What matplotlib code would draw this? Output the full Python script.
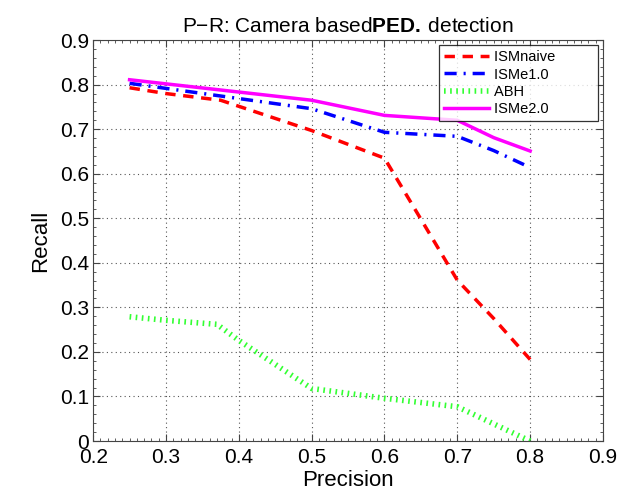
import matplotlib
matplotlib.use("Agg")
import matplotlib.pyplot as plt
from matplotlib.ticker import MultipleLocator

plt.rcParams['font.family'] = ['Liberation Sans', 'DejaVu Sans']
plt.rcParams['mathtext.fontset'] = 'custom'
plt.rcParams['mathtext.bf'] = 'Liberation Sans:bold'
plt.rcParams['mathtext.rm'] = 'Liberation Sans'

# data
naive_x = [0.25, 0.3, 0.375, 0.5, 0.6, 0.7, 0.75, 0.8]
naive_y = [0.793, 0.78, 0.765, 0.697, 0.635, 0.361, 0.275, 0.183]

e1_x = [0.25, 0.5, 0.6, 0.7, 0.75, 0.8]
e1_y = [0.803, 0.746, 0.693, 0.684, 0.652, 0.614]

abh_x = [0.25, 0.3, 0.37, 0.4, 0.5, 0.6, 0.7, 0.8]
abh_y = [0.279, 0.271, 0.262, 0.226, 0.118, 0.096, 0.077, 0.0]

e2_x = [0.25, 0.5, 0.6, 0.7, 0.75, 0.8]
e2_y = [0.811, 0.765, 0.731, 0.72, 0.681, 0.651]

xticks = [0.2, 0.3, 0.4, 0.5, 0.6, 0.7, 0.8, 0.9]
yticks = [0, 0.1, 0.2, 0.3, 0.4, 0.5, 0.6, 0.7, 0.8, 0.9]
xtick_labels = ['0.2', '0.3', '0.4', '0.5', '0.6', '0.7', '0.8', '0.9']
ytick_labels = ['0', '0.1', '0.2', '0.3', '0.4', '0.5', '0.6', '0.7', '0.8', '0.9']

fig = plt.figure(figsize=(6.21, 4.95), dpi=100)
ax = fig.add_axes([0.150, 0.109, 0.821, 0.810])

ax.plot(naive_x, naive_y, color='red', linestyle=(0, (3, 2.2)), linewidth=2.5, label='ISMnaive')
ax.plot(e1_x, e1_y, color='blue', linestyle=(0, (3.5, 2, 0.6, 2)), linewidth=2.5, label='ISMe1.0')
ax.plot(abh_x, abh_y, color='#33ff33', linestyle=(0, (0.3, 0.8)), linewidth=4,
        dash_capstyle='butt', label='ABH')
ax.plot(e2_x, e2_y, color='magenta', linestyle='-', linewidth=2.5, label='ISMe2.0')

ax.set_xlim(0.2, 0.9)
ax.set_ylim(0, 0.9)
ax.set_xticks(xticks)
ax.set_yticks(yticks)
ax.xaxis.set_minor_locator(MultipleLocator(0.01))
ax.yaxis.set_minor_locator(MultipleLocator(0.02))
ax.set_xticklabels(xtick_labels, fontsize=15)
ax.set_yticklabels(ytick_labels, fontsize=15)
ax.tick_params(which='both', direction='in', top=True, right=True, color='#444444')
ax.tick_params(which='major', length=5, pad=3)
ax.tick_params(axis='x', which='major', pad=5)
ax.tick_params(which='minor', length=2.5)
ax.grid(True, which='major', linestyle=(0, (1, 3)), color='#555555', linewidth=0.8)
for s in ax.spines.values():
    s.set_color('#444444')

ax.set_xlabel('Precision', fontsize=16, labelpad=2)
ax.set_ylabel('Recall', fontsize=16, labelpad=6)
ax.set_title(r'P$-$R: Camera based$\mathbf{PED.}\,$detection', fontsize=15, pad=6)

pad = '         '
handles, labels = ax.get_legend_handles_labels()
leg = ax.legend(handles, [l + pad for l in labels], loc='upper right', fontsize=10.5,
                frameon=True, fancybox=False, edgecolor='black', handlelength=3.1,
                borderpad=0.35, labelspacing=0.22, handletextpad=0.35, borderaxespad=0.35)
leg.get_frame().set_linewidth(0.9)

fig.savefig('out.png', dpi=100)
